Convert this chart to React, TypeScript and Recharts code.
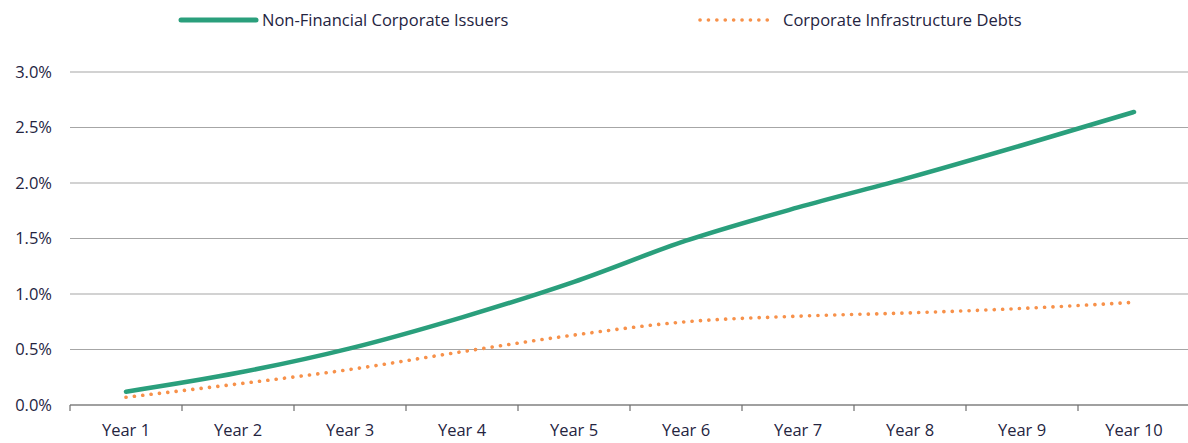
import { LineChart, Line, XAxis, YAxis, CartesianGrid, Legend } from "recharts";

const years = ["Year 1", "Year 2", "Year 3", "Year 4", "Year 5", "Year 6", "Year 7", "Year 8", "Year 9", "Year 10"];
const nonFinancial = [0.12, 0.29, 0.51, 0.79, 1.11, 1.48, 1.78, 2.05, 2.34, 2.64];
const infrastructure = [0.07, 0.19, 0.32, 0.48, 0.63, 0.75, 0.8, 0.83, 0.87, 0.925];
const yTicks = [0, 0.5, 1, 1.5, 2, 2.5, 3];

const GREEN = "#2a9f7c";
const ORANGE = "#f7914a";
const TEXT = "#24243f";
const FONT = "'Open Sans', sans-serif";
const FONT_SIZE = 16.5;
const HALF_BAND = 56;

const data = years.map((year, i) => ({
  year,
  nonFinancial: nonFinancial[i],
  infrastructure: infrastructure[i],
}));

function TopLegend() {
  return (
    <div style={{ position: "relative", width: 1188, height: 40, fontFamily: FONT, fontSize: FONT_SIZE, color: TEXT }}>
      <svg width={84} height={10} style={{ position: "absolute", left: 177, top: 15 }}>
        <line x1={4} y1={5} x2={79} y2={5} stroke={GREEN} strokeWidth={5} strokeLinecap="round" />
      </svg>
      <span style={{ position: "absolute", left: 262, top: 8, whiteSpace: "nowrap", lineHeight: "24px" }}>
        Non-Financial Corporate Issuers
      </span>
      <svg width={84} height={10} style={{ position: "absolute", left: 696, top: 15 }}>
        <line x1={4} y1={5} x2={79} y2={5} stroke={ORANGE} strokeWidth={3.6} strokeDasharray="0.1 8.3" strokeLinecap="round" />
      </svg>
      <span style={{ position: "absolute", left: 783, top: 8, whiteSpace: "nowrap", lineHeight: "24px" }}>
        Corporate Infrastructure Debts
      </span>
    </div>
  );
}

function YearTick(props: any) {
  const { x, y, payload } = props;
  return (
    <g>
      <line x1={x - HALF_BAND} y1={y} x2={x - HALF_BAND} y2={y + 6} stroke="#6e6e6e" strokeWidth={1.2} />
      <text x={x} y={y + 19} dy="0.71em" textAnchor="middle" fill={TEXT} fontFamily={FONT} fontSize={FONT_SIZE}>
        {payload.value}
      </text>
    </g>
  );
}

export default function App() {
  return (
    <div style={{ position: "absolute", left: 0, top: 0, width: 1188, height: 443, background: "#fff" }}>
      <LineChart width={1190} height={443} data={data} margin={{ top: 72, right: 0, bottom: 0, left: 0 }}>
        <CartesianGrid vertical={false} stroke="#a6a6a6" strokeWidth={1.2} />
        <XAxis
          dataKey="year"
          height={38}
          stroke="#6e6e6e"
          strokeWidth={1.2}
          padding={{ left: HALF_BAND, right: HALF_BAND }}
          tickLine={false}
          tickSize={0}
          tickMargin={0}
          interval={0}
          tick={<YearTick />}
        />
        <YAxis
          width={70}
          domain={[0, 3]}
          ticks={yTicks}
          axisLine={false}
          tickLine={false}
          tickSize={0}
          tickMargin={18}
          tickFormatter={(v: number) => `${v.toFixed(1)}%`}
          tick={{ fill: TEXT, fontFamily: FONT, fontSize: FONT_SIZE }}
        />
        <Legend
          verticalAlign="middle"
          content={() => <TopLegend />}
          wrapperStyle={{ top: 0, left: 0, width: 1188 }}
        />
        <Line
          type="monotone"
          dataKey="nonFinancial"
          stroke={GREEN}
          strokeWidth={4.5}
          strokeLinecap="round"
          dot={false}
          activeDot={false}
          isAnimationActive={false}
        />
        <Line
          type="monotone"
          dataKey="infrastructure"
          stroke={ORANGE}
          strokeWidth={3.6}
          strokeDasharray="0.1 8.3"
          strokeLinecap="round"
          dot={false}
          activeDot={false}
          isAnimationActive={false}
        />
      </LineChart>
    </div>
  );
}
